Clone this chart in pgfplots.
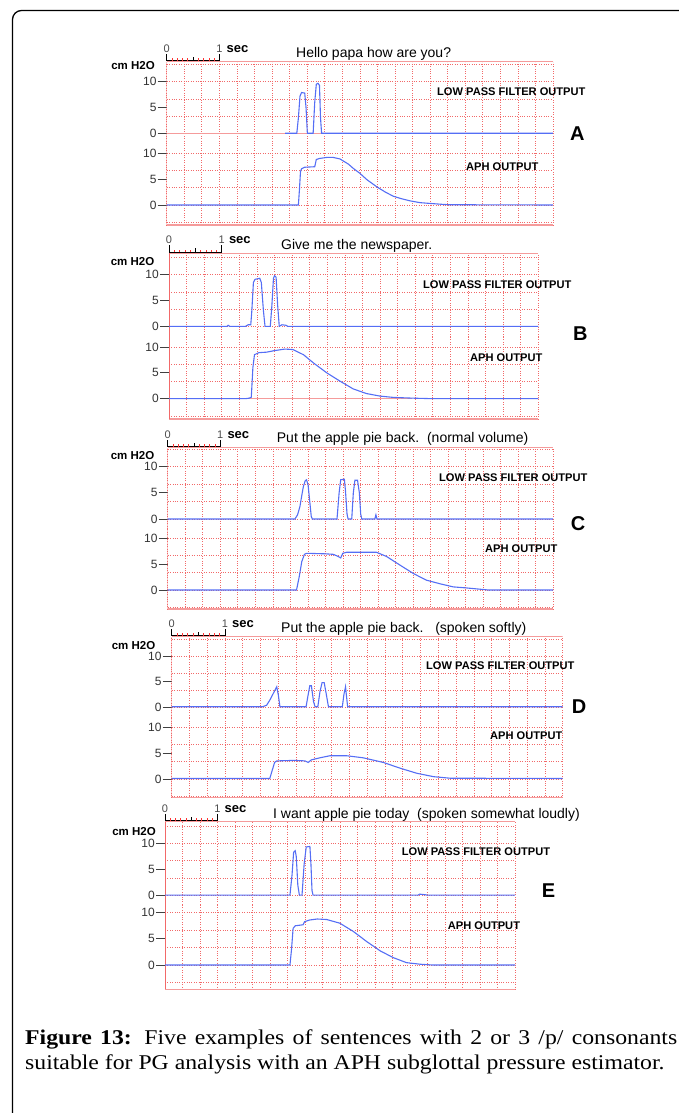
\documentclass[border=0pt]{standalone}
\usepackage{fontspec}
\setmainfont{Liberation Sans}
\newfontfamily\capfont{Liberation Serif}[FakeStretch=1.13]
\usepackage{pgfplots}
\pgfplotsset{compat=1.18}
\definecolor{datablue}{RGB}{85,110,245}
\definecolor{gridred}{RGB}{242,105,105}
\definecolor{linered}{RGB}{245,155,155}

\pgfplotsset{
  panel/.style={
    scale only axis,
    axis line style={draw=none},
    xtick={0,0.33333,...,7.4},
    xticklabels={},
    xtick style={draw=none},
    xmajorgrids=true,
    ytick={0,5,10},
    ytick pos=left,
    yminorgrids=true,
    major grid style={dotted, color=gridred, line width=0.65pt},
    minor grid style={dotted, color=gridred, line width=0.65pt},
    major tick length=9pt,
    minor tick length=0pt,
    tick align=outside,
    ytick style={draw=black!75, line width=0.9pt},
    yticklabel style={font=\fontsize{12}{12}\selectfont, text=black!80, inner sep=1pt},
    /pgf/number format/assume math mode=true,
    every axis plot post/.append style={color=datablue, line width=1.1pt, mark=none},
  },
  lpf/.style={panel, minor ytick={0,3.3333,6.6667,10,13.3333}},
  aph/.style={panel, minor ytick={-3.3333,0,3.3333,6.6667,10}},
}

\newcommand{\scalebar}[3]{%
  \draw[black, line width=0.8pt] (#1,#2-1) -- (#1+#3,#2-1);
  \draw[black, line width=0.8pt] (#1,#2-1) -- (#1,#2-8);
  \draw[black, line width=0.8pt] (#1+#3,#2-1) -- (#1+#3,#2-8);
  \draw[black, line width=0.8pt] (#1+0.5*#3,#2-1) -- (#1+0.5*#3,#2-5);
  \foreach \k in {1,2,3,4,6,7,8,9} {\draw[red!80, line width=0.6pt] (#1+0.1*\k*#3,#2-1) -- (#1+0.1*\k*#3,#2-3.5);}
  \node[font=\fontsize{11}{11}\selectfont, text=black!70, anchor=base, inner sep=0] at (#1,#2-9.5) {0};
  \node[font=\fontsize{11}{11}\selectfont, text=black!70, anchor=base, inner sep=0] at (#1+#3,#2-9.5) {1};
  \node[font=\bfseries\fontsize{13}{13}\selectfont, anchor=base west, inner sep=0] at (#1+#3+7,#2-9.5) {sec};
}
\newcommand{\cmh}[2]{\node[font=\bfseries\fontsize{11.5}{11.5}\selectfont, anchor=base, inner sep=0] at (#1,#2) {cm H2O};}
\newcommand{\ttl}[3]{\node[font=\fontsize{14}{14}\selectfont, anchor=base west, inner sep=0] at (#1,#2) {#3};}
\newcommand{\lpflab}[2]{\node[font=\bfseries\fontsize{11.1}{11.1}\selectfont, anchor=base west, inner sep=0] at (#1,#2) {LOW PASS FILTER OUTPUT};}
\newcommand{\aphlab}[2]{\node[font=\bfseries\fontsize{11.1}{11.1}\selectfont, anchor=base west, inner sep=0] at (#1,#2) {APH OUTPUT};}
\newcommand{\letter}[3]{\node[font=\bfseries\fontsize{20}{20}\selectfont, anchor=base west, inner sep=0] at (#1,#2) {#3};}

\begin{document}
\begin{tikzpicture}
\useasboundingbox (0pt,0pt) rectangle (678pt,-1113pt);
\draw[line width=1.3pt, rounded corners=9pt] (12.5pt,-1130pt) -- (12.5pt,-10.5pt) -- (700pt,-10.5pt);

% ---------------- Panel A ----------------
\begin{axis}[lpf, at={(166.7pt,-61.7pt)}, anchor=north west, width=386.3pt, height=81.6pt,
  xmin=0, xmax=7.3333, ymin=-1.94, ymax=13.88]
\draw[linered, line width=1.5pt] (rel axis cs:0,1) -- (rel axis cs:1,1);
\draw[linered, line width=1.2pt] (axis cs:0,0) -- (axis cs:7.3333,0);
\draw[gridred, line width=0.6pt] (rel axis cs:0,0) -- (rel axis cs:0,1);
\addplot coordinates {(2.25,0) (2.47,0) (2.50,3) (2.53,7.2) (2.56,7.9) (2.62,7.8) (2.645,5) (2.67,0) (2.78,0) (2.81,6) (2.84,9.5) (2.87,9.7) (2.90,9.3) (2.92,3) (2.94,0) (7.33,0)};
\end{axis}
\begin{axis}[aph, at={(166.7pt,-143.3pt)}, anchor=north west, width=386.3pt, height=81.7pt,
  xmin=0, xmax=7.3333, ymin=-3.87, ymax=11.93]
\draw[linered, line width=1.5pt] (rel axis cs:0,0) -- (rel axis cs:1,0);
\draw[gridred, line width=0.6pt] (rel axis cs:0,0) -- (rel axis cs:0,1);
\addplot coordinates {(0,0) (2.50,0) (2.52,3) (2.54,6.5) (2.56,7.0) (2.62,7.3) (2.81,7.4) (2.84,8.8) (2.90,9.0) (3.04,9.2) (3.16,9.2) (3.29,8.9) (3.45,7.9) (3.54,7.1) (3.67,6.1) (3.80,4.9) (3.99,3.5) (4.15,2.5) (4.30,1.7) (4.46,1.2) (4.62,0.8) (4.81,0.45) (5.00,0.3) (5.20,0.15) (5.35,0.05) (7.33,0)};
\end{axis}

% ---------------- Panel B ----------------
\begin{axis}[lpf, at={(169pt,-253pt)}, anchor=north west, width=369.3pt, height=83.65pt,
  xmin=0, xmax=7, ymin=-2.0, ymax=14.2]
\draw[linered, line width=1.5pt] (rel axis cs:0,1) -- (rel axis cs:1,1);
\draw[gridred, line width=0.6pt] (rel axis cs:0,0) -- (rel axis cs:0,1);
\addplot coordinates {(0,0) (1.10,0) (1.12,0.2) (1.15,0) (1.45,0) (1.50,0.3) (1.55,0.3) (1.57,3) (1.60,8.5) (1.63,9.1) (1.72,9.3) (1.75,8.5) (1.79,3) (1.82,0) (1.92,0) (1.95,4) (1.98,9.3) (2.00,9.8) (2.03,9.5) (2.06,4) (2.09,0) (2.14,0.3) (2.22,0.2) (2.25,0) (7,0)};
\end{axis}
\begin{axis}[aph, at={(169pt,-336.65pt)}, anchor=north west, width=369.3pt, height=82.35pt,
  xmin=0, xmax=7, ymin=-3.93, ymax=12.0]
\draw[linered, line width=1.5pt] (rel axis cs:0,0) -- (rel axis cs:1,0);
\draw[gridred, line width=0.6pt] (rel axis cs:0,0) -- (rel axis cs:0,1);
\draw[linered, line width=1.2pt] (axis cs:0,0) -- (axis cs:4.6,0);
\addplot coordinates {(0,0) (1.45,0) (1.52,0.1) (1.56,0.3) (1.59,6) (1.62,8.5) (1.70,8.9) (1.85,9.0) (2.00,9.3) (2.20,9.6) (2.35,9.5) (2.55,8.5) (2.74,6.9) (2.99,5.0) (3.24,3.4) (3.49,1.9) (3.74,1.0) (4.00,0.5) (4.25,0.25) (4.63,0.1) (5.0,0) (7,0)};
\end{axis}

% ---------------- Panel C ----------------
\begin{axis}[lpf, at={(167.7pt,-447.7pt)}, anchor=north west, width=385.6pt, height=80.95pt,
  xmin=0, xmax=7.3333, ymin=-1.85, ymax=13.63]
\draw[linered, line width=1.5pt] (rel axis cs:0,1) -- (rel axis cs:1,1);
\draw[gridred, line width=0.6pt] (rel axis cs:0,0) -- (rel axis cs:0,1);
\addplot coordinates {(0,0) (2.42,0) (2.47,0.8) (2.515,2.4) (2.55,4.5) (2.58,6.2) (2.615,7.3) (2.64,7.5) (2.67,6.5) (2.705,3.0) (2.73,0.5) (2.75,0) (3.22,0) (3.26,5) (3.29,7.5) (3.36,7.6) (3.38,5.5) (3.41,1) (3.43,0) (3.50,0) (3.53,5) (3.56,7.4) (3.61,7.4) (3.645,5) (3.67,1) (3.69,0) (3.94,0) (3.96,0.8) (3.98,0) (7.33,0)};
\end{axis}
\begin{axis}[aph, at={(167.7pt,-528.65pt)}, anchor=north west, width=385.6pt, height=80.35pt,
  xmin=0, xmax=7.3333, ymin=-3.68, ymax=11.87]
\draw[linered, line width=1.5pt] (rel axis cs:0,0) -- (rel axis cs:1,0);
\draw[gridred, line width=0.6pt] (rel axis cs:0,0) -- (rel axis cs:0,1);
\addplot coordinates {(0,0) (2.45,0) (2.50,2.5) (2.55,5.5) (2.60,6.9) (2.64,7.1) (3.00,7.0) (3.15,6.9) (3.24,6.5) (3.29,6.2) (3.33,7.1) (3.40,7.3) (3.97,7.3) (4.16,6.5) (4.42,4.8) (4.67,3.2) (4.92,1.9) (5.18,1.2) (5.43,0.6) (5.68,0.4) (5.94,0.15) (6.1,0) (7.33,0)};
\end{axis}

% ---------------- Panel D ----------------
\begin{axis}[lpf, at={(171.7pt,-636.7pt)}, anchor=north west, width=391pt, height=80.6pt,
  xmin=0, xmax=7.3333, ymin=-1.95, ymax=13.76]
\draw[linered, line width=1.5pt] (rel axis cs:0,1) -- (rel axis cs:1,1);
\draw[gridred, line width=0.6pt] (rel axis cs:0,0) -- (rel axis cs:0,1);
\addplot coordinates {(0,0.1) (1.70,0.1) (1.78,0.4) (1.84,1.4) (1.90,2.6) (1.94,3.4) (1.97,4.0) (2.00,2.4) (2.03,0.1) (2.52,0.1) (2.56,2.5) (2.59,4.2) (2.62,4.2) (2.66,1.1) (2.69,0.1) (2.74,0.1) (2.78,3) (2.82,4.8) (2.86,4.8) (2.90,2.5) (2.94,0.1) (3.20,0.1) (3.23,2.5) (3.26,4.0) (3.28,2.0) (3.30,0.1) (7.33,0.1)};
\end{axis}
\begin{axis}[aph, at={(171.7pt,-717.3pt)}, anchor=north west, width=391pt, height=80.4pt,
  xmin=0, xmax=7.3333, ymin=-3.62, ymax=11.93]
\draw[linered, line width=1.5pt] (rel axis cs:0,0) -- (rel axis cs:1,0);
\draw[gridred, line width=0.6pt] (rel axis cs:0,0) -- (rel axis cs:0,1);
\addplot coordinates {(0,0.1) (1.84,0.1) (1.88,1.5) (1.93,3.2) (1.97,3.5) (2.30,3.6) (2.50,3.5) (2.56,3.2) (2.62,3.7) (2.78,4.1) (2.97,4.5) (3.28,4.5) (3.59,4.1) (3.97,3.2) (4.28,2.1) (4.60,1.1) (4.91,0.45) (5.22,0.15) (7.33,0.1)};
\end{axis}

% ---------------- Panel E ----------------
\begin{axis}[lpf, at={(165pt,-821.7pt)}, anchor=north west, width=350pt, height=82.5pt,
  xmin=0, xmax=6.6667, ymin=-1.62, ymax=14.12]
\draw[linered, line width=1.5pt] (rel axis cs:0,1) -- (rel axis cs:1,1);
\draw[gridred, line width=0.6pt] (rel axis cs:0,0) -- (rel axis cs:0,1);
\addplot coordinates {(0,0.1) (2.38,0.1) (2.42,4) (2.45,8.3) (2.48,8.6) (2.50,7.5) (2.53,2) (2.56,0.1) (2.61,0.1) (2.65,6) (2.69,9.3) (2.76,9.4) (2.78,6) (2.80,1) (2.82,0.1) (4.82,0.1) (4.85,0.3) (4.95,0.2) (5.0,0.1) (6.6667,0.1)};
\end{axis}
\begin{axis}[aph, at={(165pt,-904.2pt)}, anchor=north west, width=350pt, height=85.1pt,
  xmin=0, xmax=6.6667, ymin=-4.65, ymax=11.63]
\draw[linered, line width=1.5pt] (rel axis cs:0,0) -- (rel axis cs:1,0);
\draw[gridred, line width=0.6pt] (rel axis cs:0,0) -- (rel axis cs:0,1);
\addplot coordinates {(0,0) (2.38,0) (2.41,3) (2.44,7.0) (2.48,7.5) (2.63,7.7) (2.66,8.3) (2.75,8.6) (2.90,8.8) (3.08,8.7) (3.33,8.0) (3.59,6.4) (3.84,4.5) (4.10,2.7) (4.35,1.4) (4.60,0.45) (4.86,0.15) (5.1,0) (6.6667,0)};
\end{axis}

\begin{scope}[x=1pt, y=-1pt]
% A
\scalebar{166.7}{61.7}{52.66}
\cmh{133}{69.1}
\ttl{296}{57.3}{Hello papa how are you?}
\lpflab{437}{95.7}
\aphlab{466}{170}
\letter{570}{140.2}{A}
% B
\scalebar{169}{253}{52.8}
\cmh{132.5}{265.1}
\ttl{281}{249}{Give me the newspaper.}
\lpflab{423}{288}
\aphlab{470}{361}
\letter{573}{340.2}{B}
% C
\scalebar{167.7}{447.7}{52.6}
\cmh{132.5}{459.1}
\ttl{276.7}{442}{Put the apple pie back.\ \ (normal volume)}
\lpflab{439}{481.3}
\aphlab{485}{552}
\letter{570.7}{530.2}{C}
% D
\scalebar{171.7}{636.7}{53.3}
\cmh{133.5}{649.8}
\ttl{281}{632.7}{Put the apple pie back.\ \ \ (spoken softly)}
\lpflab{426}{669}
\aphlab{490}{739.7}
\letter{571.7}{713.9}{D}
% E
\scalebar{165}{821.7}{52.5}
\cmh{134}{835.8}
\ttl{273}{818}{I want apple pie today\ \ (spoken somewhat loudly)}
\lpflab{401.7}{855.7}
\aphlab{447.7}{929}
\letter{541.7}{897.9}{E}
% caption
\node[anchor=base west, inner sep=0] at (25,1044) {\capfont\fontsize{21}{21}\selectfont\makebox[652pt][s]{\textbf{Figure 13:} Five examples of sentences with 2 or 3 /p/ consonants}};
\node[anchor=base west, inner sep=0] at (25,1069) {\capfont\fontsize{21}{21}\selectfont suitable for PG analysis with an APH subglottal pressure estimator.};
\end{scope}
\end{tikzpicture}
\end{document}
